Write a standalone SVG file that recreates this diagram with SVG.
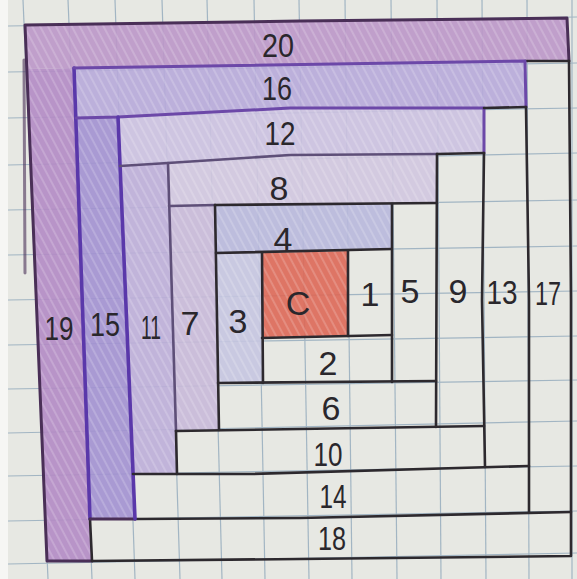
<svg xmlns="http://www.w3.org/2000/svg" width="577" height="579" viewBox="0 0 577 579">
<style>
.grid line{stroke:#a2b5c3;stroke-width:1.2}
.p{stroke:none;fill-opacity:0.9}
.tex{stroke:none;fill:url(#hatch)}
.w{fill:none;stroke:none}
.ln{fill:none;stroke-linecap:round;stroke-linejoin:round}
.dk{stroke:#2d292e;stroke-width:2.6}
.pu{stroke:#6c48a8;stroke-width:3}
.bp{stroke:#5a38aa;stroke-width:3.6}
.gp{stroke:#5e4f78;stroke-width:2.6}
.op{stroke:#4a2f57;stroke-width:3}
text{font-family:"Liberation Sans",Arial,sans-serif;font-size:34px;fill:#2a272c;text-anchor:middle}
</style>
<defs>
<pattern id="hatch" patternUnits="userSpaceOnUse" width="7" height="7" patternTransform="rotate(-28)">
<line x1="2" y1="0" x2="2" y2="7" stroke="#ffffff" stroke-opacity="0.22" stroke-width="1.6"/>
</pattern>
</defs>
<rect x="0" y="0" width="577" height="579" fill="#e7e8e3"/>
<rect x="0" y="0" width="8" height="579" fill="#f6f6f4"/>
<g class="grid">
<line x1="23" y1="0" x2="48" y2="579"/>
<line x1="68" y1="0" x2="92" y2="579"/>
<line x1="115" y1="0" x2="135" y2="579"/>
<line x1="162" y1="0" x2="180" y2="579"/>
<line x1="207" y1="0" x2="222" y2="579"/>
<line x1="254" y1="0" x2="265" y2="579"/>
<line x1="299" y1="0" x2="309" y2="579"/>
<line x1="345" y1="0" x2="352" y2="579"/>
<line x1="391" y1="0" x2="397" y2="579"/>
<line x1="437" y1="0" x2="441" y2="579"/>
<line x1="482" y1="0" x2="486" y2="579"/>
<line x1="527" y1="0" x2="529" y2="579"/>
<line x1="572" y1="0" x2="572" y2="579"/>
<line x1="8" y1="26" x2="577" y2="17"/>
<line x1="8" y1="72" x2="577" y2="63"/>
<line x1="8" y1="118" x2="577" y2="108"/>
<line x1="8" y1="165" x2="577" y2="153"/>
<line x1="8" y1="210" x2="577" y2="200"/>
<line x1="8" y1="255" x2="577" y2="246"/>
<line x1="8" y1="300" x2="577" y2="291"/>
<line x1="8" y1="345" x2="577" y2="336"/>
<line x1="8" y1="389" x2="577" y2="380"/>
<line x1="8" y1="433" x2="577" y2="421"/>
<line x1="8" y1="476" x2="577" y2="466"/>
<line x1="8" y1="521" x2="577" y2="511"/>
<line x1="8" y1="564" x2="577" y2="553"/>
</g>
<g id="piece-20"><polygon class="p" fill="#bb97c8" points="25,25 300,21 567,18 569,61 525,61 74,68 27,69"/><polygon class="tex" points="25,25 300,21 567,18 569,61 525,61 74,68 27,69"/><text x="278" y="57" textLength="32" lengthAdjust="spacingAndGlyphs">20</text></g>
<g id="piece-19"><polygon class="p" fill="#b28bc4" points="27,69 74,68 90,519 92,561 47,561"/><polygon class="tex" points="27,69 74,68 90,519 92,561 47,561"/><text x="59" y="340" textLength="29" lengthAdjust="spacingAndGlyphs">19</text></g>
<g id="piece-18"><polygon class="w" points="90,519 300,518 571,512 571,556 300,559 92,561"/><text x="332" y="550" textLength="28" lengthAdjust="spacingAndGlyphs">18</text></g>
<g id="piece-17"><polygon class="w" points="525,61 569,61 571,300 571,512 529,512 529,300 526,107"/><text x="548" y="305" textLength="26" lengthAdjust="spacingAndGlyphs">17</text></g>
<g id="piece-16"><polygon class="p" fill="#b7aad9" points="74,68 525,61 526,107 484,108 290,108 118,117 76,118"/><polygon class="tex" points="74,68 525,61 526,107 484,108 290,108 118,117 76,118"/><text x="277" y="100" textLength="30" lengthAdjust="spacingAndGlyphs">16</text></g>
<g id="piece-15"><polygon class="p" fill="#a291d0" points="76,118 118,117 135,519 90,519"/><polygon class="tex" points="76,118 118,117 135,519 90,519"/><text x="105" y="336" textLength="30" lengthAdjust="spacingAndGlyphs">15</text></g>
<g id="piece-14"><polygon class="w" points="133,474 250,474 529,466 529,512 300,518 135,519"/><text x="333" y="508" textLength="27" lengthAdjust="spacingAndGlyphs">14</text></g>
<g id="piece-13"><polygon class="w" points="484,108 526,107 529,300 529,466 485,467 482,300 484,153"/><text x="502" y="304" textLength="31" lengthAdjust="spacingAndGlyphs">13</text></g>
<g id="piece-12"><polygon class="p" fill="#cbc1e0" points="118,117 290,108 484,108 484,153 437,154 290,155 168,163 120,166"/><polygon class="tex" points="118,117 290,108 484,108 484,153 437,154 290,155 168,163 120,166"/><text x="280" y="145" textLength="31" lengthAdjust="spacingAndGlyphs">12</text></g>
<g id="piece-11"><polygon class="p" fill="#bcaed8" points="120,166 168,163 176,431 177,474 133,474"/><polygon class="tex" points="120,166 168,163 176,431 177,474 133,474"/><text x="151" y="339" textLength="20" lengthAdjust="spacingAndGlyphs">11</text></g>
<g id="piece-10"><polygon class="w" points="176,431 300,429 484,426 485,467 250,474 177,474"/><text x="328" y="466" textLength="29" lengthAdjust="spacingAndGlyphs">10</text></g>
<g id="piece-9"><polygon class="w" points="437,154 484,153 482,300 484,426 436,427"/><text x="458" y="303">9</text></g>
<g id="piece-8"><polygon class="p" fill="#d0c6df" points="168,163 290,155 437,154 437,203 215,205 169,206"/><polygon class="tex" points="168,163 290,155 437,154 437,203 215,205 169,206"/><text x="279" y="200">8</text></g>
<g id="piece-7"><polygon class="p" fill="#c8b9d8" points="169,206 215,205 219,430 176,431"/><polygon class="tex" points="169,206 215,205 219,430 176,431"/><text x="190" y="335">7</text></g>
<g id="piece-6"><polygon class="w" points="218,383 436,381 436,427 300,429 219,430"/><text x="331" y="420">6</text></g>
<g id="piece-5"><polygon class="w" points="392,204 437,203 436,381 392,382"/><text x="410" y="303">5</text></g>
<g id="piece-4"><polygon class="p" fill="#b8b8db" points="215,205 392,204 392,249 262,253 216,253"/><polygon class="tex" points="215,205 392,204 392,249 262,253 216,253"/><text x="283" y="251">4</text></g>
<g id="piece-3"><polygon class="p" fill="#c5c5e0" points="216,253 262,253 263,383 218,383"/><polygon class="tex" points="216,253 262,253 263,383 218,383"/><text x="238" y="333">3</text></g>
<g id="piece-2"><polygon class="w" points="262,338 392,335 392,382 263,383"/><text x="328" y="375">2</text></g>
<g id="piece-1"><polygon class="w" points="348,251 392,249 392,335 348,336"/><text x="370" y="306">1</text></g>
<g id="piece-C"><polygon class="p" fill="#dd6856" points="262,253 348,251 348,336 262,338"/><polygon class="tex" points="262,253 348,251 348,336 262,338"/><text x="298" y="315">C</text></g>
<g id="connectors">
<path class="ln op" d="M47,561 L25,25 L300,21 L567,18 L569,61 M47,561 L92,561"/>
<path class="ln op" d="M24,60 L25,273" stroke-opacity="0.6" stroke-width="2"/>
<path class="ln dk" d="M569,61 L571,300 L571,556 L300,559 L92,561"/>
<path class="ln dk" d="M525,61 L569,61"/>
<path class="ln bp" d="M74,68 L90,519"/>
<path class="ln dk" d="M90,519 L92,561"/>
<path class="ln pu" d="M74,68 L525,61 L526,107"/>
<path class="ln op" d="M90,519 L135,519"/>
<path class="ln dk" d="M135,519 L300,518 L571,512"/>
<path class="ln dk" d="M526,107 L529,300 L529,512"/>
<path class="ln pu" d="M76,118 L118,117 L290,108 L484,108 L484,153"/>
<path class="ln dk" d="M484,108 L526,107"/>
<path class="ln bp" d="M118,117 L135,519"/>
<path class="ln dk" d="M133,474 L250,474 L529,466"/>
<path class="ln dk" d="M484,153 L482,300 L485,467"/>
<path class="ln gp" d="M120,166 L168,163 L290,155 L437,154"/>
<path class="ln dk" d="M437,154 L484,153"/>
<path class="ln gp" d="M168,163 L176,431"/>
<path class="ln dk" d="M176,431 L177,474"/>
<path class="ln dk" d="M176,431 L300,429 L484,426"/>
<path class="ln dk" d="M437,154 L436,427"/>
<path class="ln gp" d="M169,206 L215,205"/>
<path class="ln dk" d="M215,205 L437,203"/>
<path class="ln dk" d="M215,205 L219,430"/>
<path class="ln dk" d="M218,383 L436,381"/>
<path class="ln dk" d="M392,204 L392,382"/>
<path class="ln dk" d="M216,253 L392,249"/>
<path class="ln dk" d="M262,253 L263,383"/>
<path class="ln dk" d="M262,338 L392,335"/>
<path class="ln dk" d="M348,251 L348,336"/>
</g>
</svg>
